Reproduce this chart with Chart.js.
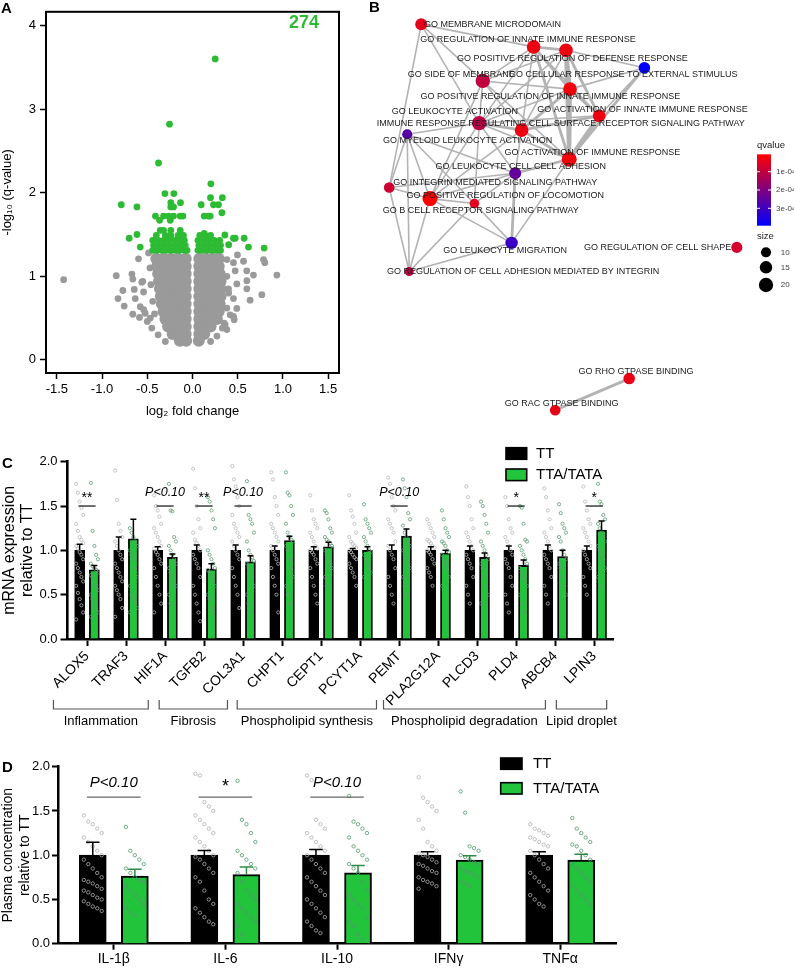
<!DOCTYPE html>
<html>
<head>
<meta charset="utf-8">
<title>Volcano, GO network and expression panels</title>
<script src="https://cdn.jsdelivr.net/npm/chart.js@4.4.1/dist/chart.umd.min.js"></script>
<style>
  body { margin: 0; background: #fff; }
  #page { position: relative; width: 794px; height: 968px; overflow: hidden; font-family: "Liberation Sans", Arial, sans-serif; }
  canvas { position: absolute; }
  .panel-letter { position: absolute; font-weight: bold; font-size: 15px; line-height: 15px; }
</style>
</head>
<body>
<div id="page">
  <canvas id="volcanoChart" width="350" height="425" style="left:0;top:0"></canvas>
  <canvas id="networkChart" width="434" height="430" style="left:360px;top:0"></canvas>
  <canvas id="mrnaChart" width="660" height="300" style="left:0;top:430px"></canvas>
  <canvas id="plasmaChart" width="660" height="228" style="left:0;top:740px"></canvas>
  <div class="panel-letter" style="left:1px;top:0px">A</div>
  <div class="panel-letter" style="left:369px;top:-1px">B</div>
  <div class="panel-letter" style="left:2px;top:455px">C</div>
  <div class="panel-letter" style="left:2px;top:759px">D</div>
</div>
<script>
// ---- panel A: volcano plot ----
const grayCorePoints = [
  [-0.40,1.21],[-0.32,1.21],[-0.24,1.21],[-0.16,1.21],[-0.075,1.21],
  [-0.39,1.12],[-0.31,1.12],[-0.23,1.12],[-0.15,1.12],[-0.075,1.12],
  [-0.38,1.03],[-0.30,1.03],[-0.22,1.03],[-0.15,1.03],[-0.075,1.03],
  [-0.37,0.94],[-0.29,0.94],[-0.22,0.94],[-0.15,0.94],[-0.075,0.94],
  [-0.36,0.85],[-0.28,0.85],[-0.21,0.85],[-0.14,0.85],[-0.075,0.85],
  [-0.35,0.76],[-0.27,0.76],[-0.20,0.76],[-0.14,0.76],[-0.075,0.76],
  [-0.34,0.67],[-0.26,0.67],[-0.19,0.67],[-0.13,0.67],[-0.075,0.67],
  [-0.32,0.58],[-0.25,0.58],[-0.18,0.58],[-0.12,0.58],[-0.075,0.58],
  [-0.30,0.49],[-0.23,0.49],[-0.16,0.49],[-0.075,0.49],
  [-0.27,0.40],[-0.20,0.40],[-0.13,0.40],[-0.075,0.40],
  [-0.22,0.31],[-0.15,0.31],[-0.075,0.31],
  [-0.14,0.23],[-0.07,0.23],
  [0.075,1.21],[0.15,1.21],[0.22,1.21],[0.29,1.21],
  [0.075,1.12],[0.15,1.12],[0.22,1.12],[0.29,1.12],
  [0.075,1.03],[0.15,1.03],[0.22,1.03],[0.30,1.03],
  [0.075,0.94],[0.15,0.94],[0.23,0.94],[0.31,0.94],
  [0.075,0.85],[0.15,0.85],[0.23,0.85],[0.31,0.85],
  [0.075,0.76],[0.15,0.76],[0.23,0.76],[0.31,0.76],
  [0.075,0.67],[0.15,0.67],[0.22,0.67],[0.30,0.67],
  [0.075,0.58],[0.15,0.58],[0.22,0.58],[0.29,0.58],
  [0.075,0.49],[0.14,0.49],[0.21,0.49],[0.27,0.49],
  [0.075,0.40],[0.14,0.40],[0.20,0.40],
  [0.075,0.31],[0.13,0.31],
  [0.07,0.23]
];
const grayScatterPoints = [
  [-1.425,0.96],[-0.843,1.007],[-0.67,1.026],[-0.66,0.967],[-0.55,0.94],[-0.56,0.929],
  [-0.77,0.83],[-0.644,0.843],[-0.541,0.812],[-0.824,0.733],[-0.633,0.733],[-0.755,0.644],
  [-0.578,0.636],[-0.66,0.546],[-0.523,0.558],[-0.586,0.508],[-0.467,0.50],[-0.54,0.60],
  [-0.50,0.46],[-0.45,0.38],[-0.597,1.209],[-0.486,1.28],[-0.47,1.10],[-0.46,0.90],
  [-0.44,0.70],[-0.42,0.55],[-0.38,0.30],[-0.30,0.22],
  [0.933,1.014],[0.38,1.20],[0.453,1.163],[0.564,1.18],[0.785,1.20],[0.80,1.163],
  [0.60,1.065],[0.674,1.014],[0.472,1.065],[0.601,0.948],[0.49,0.909],[0.398,0.85],
  [0.601,0.85],[0.767,0.78],[0.637,0.714],[0.453,0.733],[0.49,0.616],[0.416,0.539],
  [0.461,0.48],[0.361,0.422],[0.38,0.363],[0.27,0.285],[0.497,1.256],[0.453,0.52],
  [0.35,0.44],[0.38,1.00],[0.40,0.80],[0.38,0.62],[0.33,0.38],[0.20,0.22]
];
const significantPoints = [
  [0.251,3.60],[-0.254,2.82],[-0.376,2.355],[0.203,2.106],[-0.305,1.99],[-0.206,1.99],
  [0.199,1.94],[0.33,1.94],[-0.788,1.856],[-0.614,1.83],[-0.24,1.88],[-0.133,1.88],
  [-0.24,1.83],[-0.21,1.83],[0.096,1.856],[0.232,1.856],[0.287,1.856],[0.325,1.76],
  [-0.41,1.72],[-0.32,1.72],[-0.265,1.72],[-0.21,1.72],[-0.136,1.72],[-0.106,1.72],
  [0.129,1.72],[0.177,1.72],[0.196,1.72],[-0.364,1.67],[-0.246,1.67],[-0.70,1.455],
  [-0.614,1.50],[-0.578,1.35],[-0.357,1.55],[-0.32,1.55],[-0.24,1.55],[-0.136,1.55],
  [0.129,1.513],[0.358,1.494],[0.453,1.455],[0.472,1.455],[0.571,1.455],[0.619,1.35],
  [0.792,1.338],[0.40,1.377],
  [-0.44,1.31],[-0.39,1.31],[-0.34,1.31],[-0.29,1.31],[-0.24,1.31],[-0.19,1.31],[-0.14,1.31],[-0.09,1.31],[-0.06,1.31],
  [-0.43,1.37],[-0.37,1.37],[-0.31,1.37],[-0.25,1.37],[-0.19,1.37],[-0.13,1.37],[-0.08,1.37],
  [-0.44,1.43],[-0.38,1.43],[-0.32,1.43],[-0.26,1.43],[-0.20,1.43],[-0.14,1.43],[-0.09,1.43],
  [-0.40,1.49],[-0.30,1.49],[-0.24,1.49],[-0.16,1.49],[-0.10,1.49],
  [0.06,1.31],[0.11,1.31],[0.16,1.31],[0.21,1.31],[0.26,1.31],[0.31,1.31],
  [0.07,1.37],[0.13,1.37],[0.19,1.37],[0.25,1.37],[0.31,1.37],
  [0.06,1.43],[0.12,1.43],[0.18,1.43],[0.24,1.43],[0.30,1.43],
  [0.08,1.49],[0.14,1.49],[0.20,1.49]
];
const significantCount = 274;

// ---- panel B: GO term network ----
const goTerms = [
  "GO MEMBRANE MICRODOMAIN",
  "GO REGULATION OF INNATE IMMUNE RESPONSE",
  "GO POSITIVE REGULATION OF DEFENSE RESPONSE",
  "GO CELLULAR RESPONSE TO EXTERNAL STIMULUS",
  "GO SIDE OF MEMBRANE",
  "GO POSITIVE REGULATION OF INNATE IMMUNE RESPONSE",
  "GO ACTIVATION OF INNATE IMMUNE RESPONSE",
  "GO LEUKOCYTE ACTIVATION",
  "IMMUNE RESPONSE REGULATING CELL SURFACE RECEPTOR SIGNALING PATHWAY",
  "GO MYELOID LEUKOCYTE ACTIVATION",
  "GO ACTIVATION OF IMMUNE RESPONSE",
  "GO LEUKOCYTE CELL CELL ADHESION",
  "GO INTEGRIN MEDIATED SIGNALING PATHWAY",
  "GO POSITIVE REGULATION OF LOCOMOTION",
  "GO B CELL RECEPTOR SIGNALING PATHWAY",
  "GO LEUKOCYTE MIGRATION",
  "GO REGULATION OF CELL SHAPE",
  "GO REGULATION OF CELL ADHESION MEDIATED BY INTEGRIN",
  "GO RHO GTPASE BINDING",
  "GO RAC GTPASE BINDING"
];
const termX = [0.128, 0.409, 0.490, 0.686, 0.282, 0.500, 0.573, 0.273, 0.379, 0.093,
               0.498, 0.363, 0.048, 0.150, 0.261, 0.354, 0.917, 0.098, 0.648, 0.463];
const termY = [0.965, 0.910, 0.902, 0.859, 0.827, 0.807, 0.742, 0.724, 0.707, 0.697,
               0.636, 0.602, 0.567, 0.540, 0.528, 0.432, 0.421, 0.362, 0.101, 0.024];
const termQ = [0.5e-4, 0.3e-4, 0.3e-4, 3.95e-4, 1.0e-4, 0.2e-4, 0.3e-4, 1.1e-4, 0.3e-4, 2.6e-4,
               0.2e-4, 2.4e-4, 0.8e-4, 0.05e-4, 0.5e-4, 3.1e-4, 0.7e-4, 1.0e-4, 0.4e-4, 0.4e-4];
const termSize = [14, 18, 18, 13, 20, 18, 16, 20, 18, 10, 22, 14, 11, 22, 9, 15, 12, 8, 13, 11];
const termLabelX = [0.306, 0.395, 0.506, 0.633, 0.228, 0.451, 0.681, 0.212, 0.477, 0.244,
                    0.556, 0.377, 0.313, 0.338, 0.277, 0.338, 0.719, 0.383, 0.665, 0.479];
const termLabelY = [0.965, 0.927, 0.882, 0.843, 0.843, 0.789, 0.758, 0.753, 0.722, 0.681,
                    0.652, 0.618, 0.580, 0.548, 0.510, 0.413, 0.421, 0.362, 0.119, 0.039];
// [from, to, weight class]
const termEdges = [
  [0,1,1],[0,4,1],[0,7,1],[0,12,1],
  [1,2,2],[1,4,1],[1,5,2],[1,6,1],[1,7,1],[1,8,1],[1,10,2],
  [2,3,1],[2,4,1],[2,5,3],[2,6,2],[2,7,1],[2,8,1],[2,10,3],
  [3,5,1],[3,6,1],[3,10,2],
  [4,5,1],[4,7,1],[4,8,1],[4,10,1],[4,13,1],
  [5,6,2],[5,7,1],[5,8,2],[5,10,3],
  [6,7,1],[6,8,2],[6,10,3],
  [7,8,2],[7,9,1],[7,10,1],[7,11,1],[7,13,1],[7,14,1],
  [8,10,2],[8,11,1],[8,13,1],
  [9,11,1],[9,12,1],[9,13,1],[9,14,1],[9,17,1],
  [10,11,2],[10,15,1],
  [11,12,1],[11,13,1],[11,14,1],[11,15,2],
  [12,13,1],[12,17,1],
  [13,14,1],[13,15,1],[13,17,1],
  [14,15,1],[14,17,1],
  [15,17,1],
  [18,19,2]
];
const qLegendTicks = [1e-4, 2e-4, 3e-4];
const sizeLegendTicks = [10, 15, 20];

// ---- panel C: hepatic mRNA ----
const groupNames = ["TT", "TTA/TATA"];
const mrnaGenes = ["ALOX5", "TRAF3", "HIF1A", "TGFB2", "COL3A1", "CHPT1", "CEPT1", "PCYT1A",
                   "PEMT", "PLA2G12A", "PLCD3", "PLD4", "ABCB4", "LPIN3"];
const mrnaTT = [1, 1, 1, 1, 1, 1, 1, 1, 1, 1, 1, 1, 1, 1];
const mrnaTTA = [0.78, 1.13, 0.92, 0.79, 0.87, 1.11, 1.04, 1.00, 1.16, 0.97, 0.92, 0.83, 0.93, 1.23];
const mrnaErrTT = [0.07, 0.15, 0.04, 0.06, 0.06, 0.05, 0.04, 0.02, 0.06, 0.04, 0.05, 0.05, 0.06, 0.05];
const mrnaErrTTA = [0.05, 0.22, 0.04, 0.06, 0.07, 0.05, 0.05, 0.04, 0.08, 0.03, 0.05, 0.06, 0.07, 0.10];
const mrnaDotsTT = [
  [1.75,1.65,1.55,1.48,1.40,1.30,1.22,1.15,1.12,1.08,1.05,1.02,0.98,0.95,0.90,0.85,0.80,0.75,0.70,0.65,0.60,0.52,0.45,0.38,0.30,0.22],
  [1.90,1.57,1.30,1.22,1.15,1.10,1.05,1.00,0.95,0.90,0.85,0.80,0.75,0.70,0.65,0.60,0.55,0.50,0.45,0.35,0.25],
  [1.62,1.50,1.45,1.38,1.30,1.25,1.20,1.15,1.10,1.05,1.02,0.98,0.95,0.90,0.85,0.80,0.70,0.60,0.50,0.40,0.30],
  [1.92,1.70,1.50,1.35,1.25,1.20,1.12,1.08,1.05,1.00,0.95,0.90,0.85,0.80,0.70,0.60,0.50,0.40,0.30,0.20],
  [1.95,1.80,1.72,1.60,1.50,1.40,1.30,1.25,1.20,1.15,1.10,1.05,1.00,0.95,0.90,0.80,0.70,0.60,0.50,0.35],
  [1.88,1.80,1.60,1.50,1.40,1.30,1.25,1.20,1.15,1.10,1.05,1.00,0.95,0.90,0.85,0.80,0.70,0.60,0.50,0.30],
  [1.62,1.45,1.35,1.30,1.25,1.20,1.15,1.10,1.05,1.02,1.00,0.98,0.95,0.90,0.85,0.80,0.70,0.60,0.50,0.40],
  [1.62,1.45,1.38,1.30,1.20,1.15,1.10,1.07,1.05,1.03,1.00,0.98,0.95,0.92,0.90,0.85,0.80,0.75,0.70,0.60],
  [1.82,1.75,1.60,1.50,1.45,1.35,1.30,1.25,1.20,1.10,1.05,1.00,0.95,0.90,0.80,0.70,0.60,0.50,0.40],
  [1.35,1.30,1.25,1.20,1.15,1.12,1.10,1.08,1.05,1.03,1.00,0.98,0.95,0.90,0.85,0.80,0.75,0.70,0.60],
  [1.72,1.60,1.50,1.35,1.25,1.20,1.15,1.10,1.05,1.00,0.95,0.90,0.85,0.80,0.70,0.60,0.50,0.40],
  [1.60,1.50,1.35,1.25,1.20,1.15,1.10,1.05,1.00,0.95,0.90,0.85,0.80,0.70,0.60,0.50,0.40,0.30],
  [1.70,1.60,1.45,1.35,1.25,1.20,1.15,1.10,1.05,1.00,0.95,0.90,0.85,0.80,0.70,0.60,0.50,0.40],
  [1.72,1.55,1.45,1.35,1.30,1.25,1.20,1.15,1.10,1.05,1.00,0.95,0.90,0.85,0.80,0.70,0.60,0.50]
];
const mrnaDotsTTA = [
  [1.76,1.22,1.05,0.95,0.90,0.85,0.82,0.80,0.78,0.75,0.72,0.70,0.65,0.60,0.55,0.50,0.45,0.40,0.35,0.30,0.25],
  [1.25,1.20,1.15,1.10,1.05,1.00,0.95,0.90,0.80,0.70,0.60,0.50,0.45,0.40,0.35,0.30],
  [1.75,1.45,1.44,1.15,1.10,1.05,1.00,0.95,0.90,0.85,0.80,0.75,0.70,0.65,0.60,0.50,0.40],
  [1.60,1.55,1.45,1.35,1.25,1.00,0.95,0.90,0.85,0.80,0.78,0.75,0.70,0.65,0.60,0.50,0.45,0.35,0.30],
  [1.78,1.40,1.35,1.30,1.20,1.10,1.00,0.95,0.92,0.88,0.85,0.80,0.75,0.70,0.60,0.50,0.40,0.30],
  [1.88,1.65,1.62,1.50,1.40,1.30,1.20,1.15,1.12,1.10,1.05,1.00,0.90,0.80,0.70,0.60,0.50,0.40],
  [1.45,1.42,1.35,1.25,1.20,1.15,1.12,1.10,1.08,1.05,1.00,0.95,0.90,0.85,0.80,0.70,0.60],
  [1.52,1.35,1.30,1.25,1.20,1.15,1.10,1.05,1.00,0.98,0.95,0.90,0.85,0.80,0.75,0.70],
  [1.80,1.70,1.60,1.42,1.35,1.28,1.20,1.15,1.10,1.05,1.00,0.95,0.90,0.85,0.80,0.70,0.60,0.50],
  [1.45,1.35,1.25,1.20,1.15,1.10,1.08,1.05,1.00,0.98,0.95,0.90,0.85,0.80,0.70,0.60],
  [1.55,1.50,1.40,1.30,1.20,1.10,1.05,1.00,0.95,0.90,0.85,0.80,0.70,0.60,0.50,0.40],
  [1.50,1.48,1.30,1.12,1.10,1.05,1.00,0.95,0.90,0.85,0.80,0.75,0.70,0.65,0.60,0.50,0.40,0.30],
  [1.52,1.42,1.30,1.25,1.20,1.15,1.10,1.00,0.95,0.90,0.85,0.80,0.70,0.60,0.50],
  [1.75,1.55,1.52,1.40,1.35,1.30,1.25,1.20,1.15,1.10,1.05,1.00,0.95,0.90,0.80,0.70,0.60]
];
const mrnaSignificance = [
  { index: 0, label: "**" }, { index: 2, label: "P<0.10" }, { index: 3, label: "**" },
  { index: 4, label: "P<0.10" }, { index: 8, label: "P<0.10" }, { index: 11, label: "*" },
  { index: 13, label: "*" }
];
const mrnaGroups = ["Inflammation", "Fibrosis", "Phospholipid synthesis", "Phospholipid degradation", "Lipid droplet"];

// ---- panel D: plasma cytokines ----
const cytokines = ["IL-1β", "IL-6", "IL-10", "IFNγ", "TNFα"];
const plasmaTT = [1, 1, 1, 1, 1];
const plasmaTTA = [0.764, 0.78, 0.80, 0.945, 0.945];
const plasmaErrTT = [0.145, 0.054, 0.065, 0.04, 0.04];
const plasmaErrTTA = [0.076, 0.086, 0.085, 0.048, 0.065];
const plasmaDotsTT = [
  [1.45,1.38,1.35,1.30,1.25,1.20,1.15,1.10,1.05,1.00,0.95,0.90,0.85,0.80,0.75,0.72,0.70,0.68,0.65,0.62,0.60,0.58,0.55,0.52,0.50,0.48,0.45,0.42,0.40,0.37],
  [1.92,1.90,1.60,1.55,1.50,1.45,1.40,1.35,1.30,1.25,1.20,1.15,1.10,1.05,1.00,0.98,0.95,0.90,0.85,0.80,0.75,0.70,0.60,0.50,0.45,0.40,0.35,0.30,0.25,0.22],
  [1.90,1.85,1.40,1.35,1.30,1.25,1.20,1.15,1.10,1.05,1.00,0.95,0.90,0.85,0.80,0.75,0.70,0.65,0.60,0.55,0.50,0.45,0.40,0.35,0.30,0.25,0.20,0.15,0.12],
  [1.88,1.65,1.60,1.55,1.50,1.40,1.30,1.15,1.10,1.05,1.02,1.00,0.98,0.95,0.92,0.90,0.88,0.85,0.82,0.80,0.75,0.72,0.70,0.68,0.65,0.62],
  [1.35,1.30,1.28,1.25,1.22,1.20,1.18,1.15,1.12,1.10,1.05,1.00,0.95,0.90,0.85,0.80,0.75,0.70,0.65,0.60,0.55,0.50,0.45,0.42]
];
const plasmaDotsTTA = [
  [1.32,1.05,1.00,0.95,0.90,0.85,0.80,0.75,0.72,0.70,0.65,0.60,0.55,0.50,0.45,0.40,0.35,0.32],
  [1.84,1.40,1.35,1.25,1.15,1.05,1.00,0.95,0.90,0.85,0.80,0.70,0.60,0.55,0.50,0.45,0.40,0.35,0.30,0.25,0.20,0.10],
  [1.67,1.38,1.35,1.30,1.25,1.20,1.10,1.05,1.00,0.95,0.90,0.85,0.80,0.70,0.60,0.55,0.50,0.45,0.40,0.30,0.25,0.20,0.10,0.05],
  [1.72,1.48,1.10,1.08,1.05,1.00,0.98,0.95,0.92,0.90,0.85,0.82,0.80,0.78,0.75,0.70,0.68,0.65],
  [1.42,1.30,1.25,1.20,1.15,1.12,1.10,1.05,1.00,0.95,0.90,0.85,0.80,0.75,0.70,0.65,0.60,0.55,0.50,0.45]
];
const plasmaSignificance = [
  { index: 0, label: "P<0.10" }, { index: 1, label: "*" }, { index: 2, label: "P<0.10" }
];

// ---- shared styling ----
const FONT = '"Liberation Sans", Arial, Helvetica, sans-serif';
const TTA_GREEN = "#21c43b";
const VOLCANO_GREEN = "#2dbb33";
const VOLCANO_GRAY = "#9a9a9a";

Chart.defaults.font.family = FONT;
Chart.defaults.color = "#000";
Chart.defaults.animation = false;
Chart.defaults.events = [];
Chart.defaults.plugins.legend.display = false;
Chart.defaults.plugins.tooltip.enabled = false;

const toXY = (pairs) => pairs.map(([x, y]) => ({ x, y }));

function qColor(q) {
  const qMin = Math.min(...termQ);
  const qMax = Math.max(...termQ);
  const t = (q - qMin) / (qMax - qMin);
  return `rgb(${Math.round(255 * (1 - t))},0,${Math.round(255 * t)})`;
}

function sizeRadius(size) {
  return 1.6 * Math.sqrt(size);
}

function drawErrorBars(chart, means, errorSets, colors, capFrac) {
  const ctx = chart.ctx;
  const yScale = chart.scales.y;
  errorSets.forEach((errs, d) => {
    const meta = chart.getDatasetMeta(d);
    meta.data.forEach((bar, i) => {
      const top = yScale.getPixelForValue(means[d][i] + errs[i]);
      const half = bar.width * capFrac;
      ctx.save();
      ctx.strokeStyle = colors[d];
      ctx.lineWidth = 1.5;
      ctx.beginPath();
      ctx.moveTo(bar.x, bar.y);
      ctx.lineTo(bar.x, top);
      ctx.moveTo(bar.x - half, top);
      ctx.lineTo(bar.x + half, top);
      ctx.stroke();
      ctx.restore();
    });
  });
}

function drawSignificance(chart, marks, style) {
  const ctx = chart.ctx;
  const xs = chart.scales.xd;
  const ys = chart.scales.y;
  ctx.save();
  marks.forEach((m) => {
    const lineY = ys.getPixelForValue(style.lineAt);
    ctx.strokeStyle = style.lineColor;
    ctx.lineWidth = 1.3;
    ctx.beginPath();
    ctx.moveTo(xs.getPixelForValue(m.index - style.halfWidth), lineY);
    ctx.lineTo(xs.getPixelForValue(m.index + style.halfWidth), lineY);
    ctx.stroke();
    const isP = m.label.startsWith("P");
    ctx.font = isP ? style.pFont : style.starFont;
    ctx.fillStyle = "#000";
    ctx.textAlign = "center";
    ctx.textBaseline = "middle";
    ctx.fillText(m.label, xs.getPixelForValue(m.index), ys.getPixelForValue(isP ? style.pAt : style.starAt));
  });
  ctx.restore();
}

function drawGroupLegend(ctx, x, y, w, h, rowGap, textX, fontSize) {
  ctx.save();
  groupNames.forEach((name, k) => {
    const top = y + k * rowGap;
    ctx.fillStyle = k === 0 ? "#000" : TTA_GREEN;
    ctx.fillRect(x, top, w, h);
    ctx.strokeStyle = "#000";
    ctx.lineWidth = 1.6;
    ctx.strokeRect(x, top, w, h);
    ctx.fillStyle = "#000";
    ctx.font = fontSize + "px " + FONT;
    ctx.textAlign = "left";
    ctx.textBaseline = "middle";
    ctx.fillText(name, textX, top + h / 2 + 0.5);
  });
  ctx.restore();
}

// bars sit on the hidden linear "xd" axis, one per group, shifted left/right of the category
function barDatasets(valuesTT, valuesTTA, shift, thickness, borderWidths) {
  return [valuesTT, valuesTTA].map((vals, g) => ({
    type: "bar",
    xAxisID: "xd",
    grouped: false,
    order: 1,
    label: groupNames[g],
    data: vals.map((v, i) => ({ x: i + (g === 0 ? -shift : shift), y: v })),
    backgroundColor: g === 0 ? "#000" : TTA_GREEN,
    borderColor: "#000",
    borderWidth: borderWidths[g],
    barThickness: thickness,
  }));
}

function dotDatasets(dotsTT, dotsTTA, colors, shift, spread, radius) {
  return [dotsTT, dotsTTA].map((sets, g) => ({
    type: "scatter",
    xAxisID: "xd",
    order: 0,
    data: sets.flatMap((vals, i) =>
      vals.map((v, k) => ({ x: i + (g === 0 ? -shift : shift) + ((k % 5) - 2) * spread, y: v }))
    ),
    pointRadius: radius,
    pointBorderWidth: 0.8,
    pointBackgroundColor: "rgba(0,0,0,0)",
    pointBorderColor: colors[g],
  }));
}

// ---- A ----
const volcanoFrame = {
  id: "volcanoFrame",
  afterDraw(chart) {
    const { ctx, chartArea: a } = chart;
    ctx.save();
    ctx.strokeStyle = "#000";
    ctx.lineWidth = 2;
    ctx.strokeRect(a.left, a.top, a.right - a.left, a.bottom - a.top);
    ctx.fillStyle = VOLCANO_GREEN;
    ctx.font = "bold 18px " + FONT;
    ctx.textAlign = "center";
    ctx.textBaseline = "middle";
    ctx.fillText(String(significantCount), 304, 23);
    ctx.restore();
  },
};

new Chart(document.getElementById("volcanoChart"), {
  type: "scatter",
  data: {
    datasets: [
      { data: toXY(significantPoints), pointRadius: 3.4, pointBackgroundColor: VOLCANO_GREEN, pointBorderWidth: 0, order: 0 },
      { data: toXY(grayScatterPoints), pointRadius: 3.4, pointBackgroundColor: VOLCANO_GRAY, pointBorderWidth: 0, order: 1 },
      { data: toXY(grayCorePoints), pointRadius: 6, pointBackgroundColor: VOLCANO_GRAY, pointBorderWidth: 0, order: 2 },
    ],
  },
  options: {
    responsive: false,
    layout: { padding: { left: 0, right: 11, top: 3, bottom: 0 } },
    scales: {
      x: {
        type: "linear", min: -1.62, max: 1.62,
        afterFit: (s) => { s.height = 52; },
        border: { display: false },
        grid: { drawOnChartArea: false, tickLength: 6, tickWidth: 1.5, tickColor: "#000" },
        ticks: { stepSize: 0.5, includeBounds: false, font: { size: 13 }, padding: 3, callback: (v) => v.toFixed(1) },
        title: { display: true, text: "log₂ fold change", font: { size: 13 }, padding: { top: 0, bottom: 6 } },
      },
      y: {
        type: "linear", min: -0.157, max: 4.164,
        afterFit: (s) => { s.width = 46; },
        border: { display: false },
        grid: { drawOnChartArea: false, tickLength: 6, tickWidth: 1.5, tickColor: "#000" },
        ticks: { stepSize: 1, includeBounds: false, font: { size: 13 }, padding: 4, callback: (v) => String(v) },
        title: { display: true, text: "-log₁₀ (q-value)", font: { size: 13 }, padding: { top: 0, bottom: 0 } },
      },
    },
  },
  plugins: [volcanoFrame],
});

// ---- B ----
const edgeWidths = { 1: 1.6, 2: 2.8, 3: 4 };
const networkDecor = {
  id: "networkDecor",
  afterDatasetsDraw(chart) {
    const { ctx, scales: { x, y } } = chart;
    ctx.save();
    ctx.font = "9px " + FONT;
    ctx.fillStyle = "#1a1a1a";
    ctx.textAlign = "center";
    ctx.textBaseline = "middle";
    goTerms.forEach((t, i) => {
      ctx.fillText(t, x.getPixelForValue(termLabelX[i]), y.getPixelForValue(termLabelY[i]));
    });
    ctx.restore();
  },
  afterDraw(chart) {
    const ctx = chart.ctx;
    const qMin = Math.min(...termQ);
    const qMax = Math.max(...termQ);
    const barX = 397, barTop = 154.3, barW = 14, barH = 71.4;
    ctx.save();
    ctx.fillStyle = "#222";
    ctx.font = "9.5px " + FONT;
    ctx.textAlign = "left";
    ctx.textBaseline = "middle";
    ctx.fillText("qvalue", barX, 145.3);
    const grad = ctx.createLinearGradient(0, barTop, 0, barTop + barH);
    grad.addColorStop(0, qColor(qMin));
    grad.addColorStop(1, qColor(qMax));
    ctx.fillStyle = grad;
    ctx.fillRect(barX, barTop, barW, barH);
    ctx.font = "8px " + FONT;
    qLegendTicks.forEach((q) => {
      const ty = barTop + ((q - qMin) / (qMax - qMin)) * barH;
      ctx.strokeStyle = "#fff";
      ctx.lineWidth = 1;
      ctx.beginPath();
      ctx.moveTo(barX, ty); ctx.lineTo(barX + 3, ty);
      ctx.moveTo(barX + barW - 3, ty); ctx.lineTo(barX + barW, ty);
      ctx.stroke();
      ctx.fillStyle = "#444";
      ctx.fillText(q.toExponential(0).replace("e-", "e-0"), barX + barW + 5, ty);
    });
    ctx.fillStyle = "#222";
    ctx.font = "9.5px " + FONT;
    ctx.fillText("size", barX, 236.7);
    const sizeRows = [252.3, 267.3, 285];
    sizeLegendTicks.forEach((s, k) => {
      ctx.fillStyle = "#000";
      ctx.beginPath();
      ctx.arc(406, sizeRows[k], sizeRadius(s), 0, Math.PI * 2);
      ctx.fill();
      ctx.fillStyle = "#444";
      ctx.font = "8px " + FONT;
      ctx.fillText(String(s), 420.7, sizeRows[k]);
    });
    ctx.restore();
  },
};

new Chart(document.getElementById("networkChart"), {
  type: "scatter",
  data: {
    datasets: [
      ...termEdges.map(([a, b, w]) => ({
        showLine: true,
        data: [{ x: termX[a], y: termY[a] }, { x: termX[b], y: termY[b] }],
        borderColor: "#b3b3b3",
        borderWidth: edgeWidths[w],
        pointRadius: 0,
        order: 1,
      })),
      {
        data: termX.map((x, i) => ({ x, y: termY[i] })),
        pointRadius: termSize.map(sizeRadius),
        pointBackgroundColor: termQ.map(qColor),
        pointBorderWidth: 0,
        clip: false,
        order: 0,
      },
    ],
  },
  options: {
    responsive: false,
    layout: { padding: { left: 10, right: 24, top: 10, bottom: 10 } },
    scales: {
      x: { type: "linear", display: false, min: 0, max: 1 },
      y: { type: "linear", display: false, min: 0, max: 1 },
    },
  },
  plugins: [networkDecor],
});

// ---- C ----
const GROUP_SHIFT = 0.1885;
const mrnaBracketSpans = [[-0.86, 1.57], [1.85, 3.6], [3.85, 7.42], [7.6, 11.75], [12.03, 13.32]];
const mrnaDecor = {
  id: "mrnaDecor",
  afterDatasetsDraw(chart) {
    drawErrorBars(chart, [mrnaTT, mrnaTTA], [mrnaErrTT, mrnaErrTTA], ["#000", "#000"], 0.3);
  },
  afterDraw(chart) {
    const ctx = chart.ctx;
    drawSignificance(chart, mrnaSignificance, {
      lineAt: 1.5, pAt: 1.65, starAt: 1.585, halfWidth: 0.22, lineColor: "#222",
      pFont: "italic 12.5px " + FONT, starFont: "14px " + FONT,
    });
    drawGroupLegend(ctx, 506, 17.7, 20.7, 11.6, 21.3, 536, 15);
    const xs = chart.scales.xd;
    ctx.save();
    ctx.strokeStyle = "#555";
    ctx.lineWidth = 1.2;
    ctx.fillStyle = "#000";
    ctx.font = "13px " + FONT;
    ctx.textAlign = "center";
    ctx.textBaseline = "middle";
    mrnaGroups.forEach((name, g) => {
      const x0 = xs.getPixelForValue(mrnaBracketSpans[g][0]);
      const x1 = xs.getPixelForValue(mrnaBracketSpans[g][1]);
      ctx.beginPath();
      ctx.moveTo(x0, 270); ctx.lineTo(x0, 279); ctx.lineTo(x1, 279); ctx.lineTo(x1, 270);
      ctx.stroke();
      ctx.fillText(name, (x0 + x1) / 2, 291);
    });
    ctx.restore();
  },
};

new Chart(document.getElementById("mrnaChart"), {
  type: "bar",
  data: {
    labels: mrnaGenes,
    datasets: [
      ...barDatasets(mrnaTT, mrnaTTA, GROUP_SHIFT, 10, [1.5, 1.8]),
      ...dotDatasets(mrnaDotsTT, mrnaDotsTTA, ["#b8b8b8", "#5d9c72"], GROUP_SHIFT, 0.045, 1.6),
    ],
  },
  options: {
    responsive: false,
    layout: { padding: { left: 0, right: 46.3, top: 31.7, bottom: 0 } },
    scales: {
      x: {
        type: "category", offset: true,
        afterFit: (s) => { s.height = 91; },
        border: { display: true, color: "#000", width: 2.6 },
        grid: { offset: false, drawOnChartArea: false, tickLength: 7, tickWidth: 2, tickColor: "#000" },
        ticks: { autoSkip: false, minRotation: 45, maxRotation: 45, font: { size: 14 }, padding: 2 },
      },
      xd: { type: "linear", display: false, offset: false, grid: { offset: false }, min: -0.5, max: mrnaGenes.length - 0.5 },
      y: {
        type: "linear", min: 0, max: 2,
        afterFit: (s) => { s.width = 67.5; },
        border: { display: true, color: "#000", width: 2.6 },
        grid: { drawOnChartArea: false, tickLength: 7, tickWidth: 2, tickColor: "#000" },
        ticks: { stepSize: 0.5, font: { size: 13 }, padding: 3, callback: (v) => v.toFixed(1) },
        title: { display: true, text: ["mRNA expression", "relative to TT"], font: { size: 16, lineHeight: 1.15 }, padding: { top: 0, bottom: 0 } },
      },
    },
  },
  plugins: [mrnaDecor],
});

// ---- D ----
const plasmaDecor = {
  id: "plasmaDecor",
  afterDatasetsDraw(chart) {
    drawErrorBars(chart, [plasmaTT, plasmaTTA], [plasmaErrTT, plasmaErrTTA], ["#000", "#2f8a47"], 0.25);
  },
  afterDraw(chart) {
    drawSignificance(chart, plasmaSignificance, {
      lineAt: 1.657, pAt: 1.82, starAt: 1.77, halfWidth: 0.24, lineColor: "#666",
      pFont: "italic 15px " + FONT, starFont: "18px " + FONT,
    });
    drawGroupLegend(chart.ctx, 500.7, 18, 21.3, 11.3, 24.7, 533, 15);
  },
};

new Chart(document.getElementById("plasmaChart"), {
  type: "bar",
  data: {
    labels: cytokines,
    datasets: [
      ...barDatasets(plasmaTT, plasmaTTA, GROUP_SHIFT, 27, [1.5, 2]),
      ...dotDatasets(plasmaDotsTT, plasmaDotsTTA, ["#b0b0b0", "#4f9a6b"], GROUP_SHIFT, 0.04, 1.7),
    ],
  },
  options: {
    responsive: false,
    layout: { padding: { left: 0, right: 44, top: 26.7, bottom: 0 } },
    scales: {
      x: {
        type: "category", offset: true,
        afterFit: (s) => { s.height = 24.3; },
        border: { display: true, color: "#000", width: 2.5 },
        grid: { offset: false, drawOnChartArea: false, tickLength: 6, tickWidth: 2, tickColor: "#000" },
        ticks: { autoSkip: false, maxRotation: 0, font: { size: 14 }, padding: 1 },
      },
      xd: { type: "linear", display: false, offset: false, grid: { offset: false }, min: -0.5, max: cytokines.length - 0.5 },
      y: {
        type: "linear", min: 0, max: 2,
        afterFit: (s) => { s.width = 58; },
        border: { display: true, color: "#000", width: 2.5 },
        grid: { drawOnChartArea: false, tickLength: 6, tickWidth: 2, tickColor: "#000" },
        ticks: { stepSize: 0.5, font: { size: 13 }, padding: 2, callback: (v) => v.toFixed(1) },
        title: { display: true, text: ["Plasma concentration", "relative to TT"], font: { size: 14, lineHeight: 1.19 }, padding: { top: 0, bottom: 0 } },
      },
    },
  },
  plugins: [plasmaDecor],
});
</script>
</body>
</html>
